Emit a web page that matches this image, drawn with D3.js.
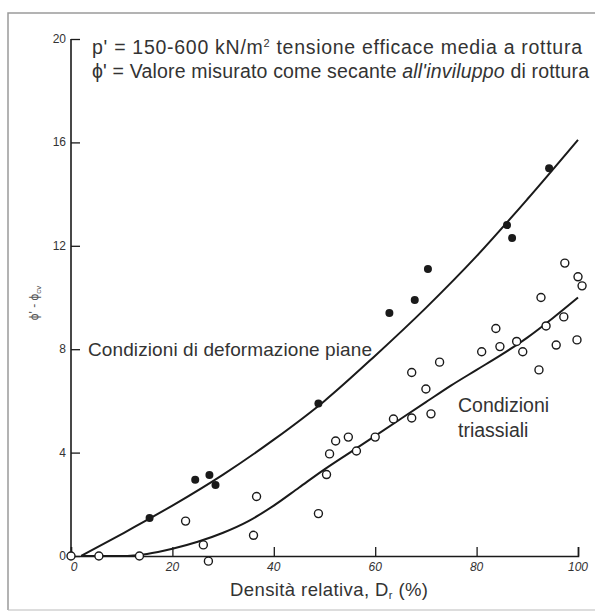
<!DOCTYPE html>
<html><head><meta charset="utf-8">
<script src="https://cdn.jsdelivr.net/npm/d3@7/dist/d3.min.js"></script>
<style>
html,body{margin:0;padding:0;background:#fff;}
svg{display:block;font-family:"Liberation Sans",Arial,Helvetica,sans-serif;}
</style></head>
<body>
<script>
// ---- data ----
const planeStrainX = [15.5, 24.5, 27.3, 28.5, 48.8, 62.8, 67.8, 70.4, 86, 87, 94.3];
const planeStrainY = [1.47, 2.95, 3.13, 2.75, 5.9, 9.4, 9.9, 11.1, 12.8, 12.3, 15.0];
const triaxialX = [0, 5.5, 13.5, 22.6, 26.1, 27.1, 36, 36.6, 48.8, 50.4, 51, 52.2, 54.7, 56.3, 60, 63.6, 67.2, 67.2, 70, 71, 72.7, 81, 83.8, 84.6, 87.9, 89.1, 92.3, 92.7, 93.7, 95.7, 97.2, 97.4, 99.8, 100, 100.8];
const triaxialY = [0, 0, 0, 1.35, 0.43, -0.2, 0.8, 2.3, 1.64, 3.15, 3.95, 4.45, 4.6, 4.06, 4.6, 5.3, 5.34, 7.1, 6.46, 5.5, 7.5, 7.9, 8.8, 8.1, 8.3, 7.9, 7.2, 10.0, 8.9, 8.16, 9.25, 11.33, 8.36, 10.8, 10.45];
const planeCurveX = [2, 10, 16, 20, 30, 40, 50, 60, 70, 80, 90, 100];
const planeCurveY = [0, 0.85, 1.5, 1.95, 3.15, 4.5, 6.0, 7.75, 9.6, 11.6, 13.8, 16.1];
const triCurveX = [2, 10, 15, 20, 25, 30, 35, 40, 45, 50, 55, 60, 65, 70, 75, 80, 85, 90, 95, 100];
const triCurveY = [0, 0, 0.08, 0.28, 0.55, 0.9, 1.35, 1.95, 2.65, 3.35, 4.0, 4.65, 5.3, 5.95, 6.6, 7.2, 7.8, 8.45, 9.2, 10.0];
const xTicks = [0, 20, 40, 60, 80, 100];
const yTicks = [0, 4, 8, 12, 16, 20];

// ---- layout ----
const W = 595, H = 615;
const svg = d3.select("body").append("svg").attr("width", W).attr("height", H);
const x = d3.scaleLinear().domain([0, 100]).range([71, 578]);
const y = d3.scaleLinear().domain([0, 20]).range([556, 39]);
const ink = "#1a1a1a", txt = "#333";

// frame
svg.append("path").attr("d", `M8,${H-5} L8,13 L${W},13`).attr("fill","none").attr("stroke","#9a9a9a").attr("stroke-width",1.5);
svg.append("line").attr("x1",8).attr("x2",W).attr("y1",H-5).attr("y2",H-5).attr("stroke","#bbb").attr("stroke-width",1.2);

// axes
const yAxis = d3.axisRight(y).tickValues(yTicks).tickSize(9).tickFormat("");
const gy = svg.append("g").attr("transform", `translate(${x(0)},0)`).call(yAxis);
const xAxis = d3.axisTop(x).tickValues(xTicks.slice(1)).tickSize(9).tickFormat("");
const gx = svg.append("g").attr("transform", `translate(0,${y(0)})`).call(xAxis);
[gy, gx].forEach(g => {
  g.select(".domain").attr("stroke", ink).attr("stroke-width", 1.6);
  g.selectAll(".tick line").attr("stroke", ink).attr("stroke-width", 1.3);
});
gy.select(".domain").attr("d", `M0,${y(0)}V${y(20)}`);

// tick labels
svg.append("g").selectAll("text").data(yTicks).join("text")
  .attr("x", x(0) - 5).attr("y", d => y(d) + 4)
  .attr("text-anchor", "end").attr("font-size", 12).attr("fill", txt)
  .text(d => d);
svg.append("g").selectAll("text").data(xTicks).join("text")
  .attr("x", d => x(d) + (d === 0 ? 3 : 0)).attr("y", y(0) + 15)
  .attr("text-anchor", "middle").attr("font-size", 12).attr("font-style", "italic").attr("fill", txt)
  .text(d => d);

// axis titles
svg.append("text").attr("x", 230).attr("y", 596)
  .attr("font-size", 18.5).attr("fill", txt).attr("textLength", 198)
  .call(t => { t.append("tspan").text("Densità relativa, D"); t.append("tspan").attr("font-size", 11).attr("dy", 3).text("r"); t.append("tspan").attr("dy", -3).text(" (%)"); });
svg.append("text").attr("transform", "translate(38,303) rotate(-90)").attr("text-anchor", "middle")
  .attr("font-size", 12).attr("fill", "#555")
  .call(t => { t.append("tspan").text("ϕ' - ϕ"); t.append("tspan").attr("font-size", 8).attr("dy", 3).text("cv"); });

// header notes
svg.append("text").attr("x", 92).attr("y", 54).attr("font-size", 19.5).attr("fill", txt).attr("textLength", 490)
  .call(t => { t.append("tspan").text("p' = 150-600 kN/m"); t.append("tspan").attr("font-size", 11).attr("dy", -7).text("2"); t.append("tspan").attr("dy", 7).text(" tensione efficace media a rottura"); });
svg.append("text").attr("x", 92).attr("y", 78).attr("font-size", 19.5).attr("fill", txt).attr("textLength", 497)
  .call(t => { t.append("tspan").text("ϕ' = Valore misurato come secante "); t.append("tspan").attr("font-style", "italic").text("all'inviluppo"); t.append("tspan").text(" di rottura"); });

// curve labels
svg.append("text").attr("x", 88).attr("y", 356).attr("font-size", 19).attr("fill", txt).attr("textLength", 284).text("Condizioni di deformazione piane");
svg.append("text").attr("x", 458).attr("y", 412).attr("font-size", 19.5).attr("fill", txt).text("Condizioni");
svg.append("text").attr("x", 458).attr("y", 437).attr("font-size", 19.5).attr("fill", txt).text("triassiali");

// curves
const line = d3.line().x(d => x(d[0])).y(d => y(d[1])).curve(d3.curveMonotoneX);
svg.append("path").datum(d3.zip(planeCurveX, planeCurveY)).attr("d", line)
  .attr("fill", "none").attr("stroke", ink).attr("stroke-width", 2);
svg.append("path").datum(d3.zip(triCurveX, triCurveY)).attr("d", line)
  .attr("fill", "none").attr("stroke", ink).attr("stroke-width", 2);

// points
svg.append("g").selectAll("circle").data(d3.zip(triaxialX, triaxialY)).join("circle")
  .attr("cx", d => x(d[0])).attr("cy", d => y(d[1])).attr("r", 4)
  .attr("fill", "#fff").attr("stroke", ink).attr("stroke-width", 1.4);
svg.append("g").selectAll("circle").data(d3.zip(planeStrainX, planeStrainY)).join("circle")
  .attr("cx", d => x(d[0])).attr("cy", d => y(d[1])).attr("r", 4)
  .attr("fill", ink);
</script>
</body></html>
